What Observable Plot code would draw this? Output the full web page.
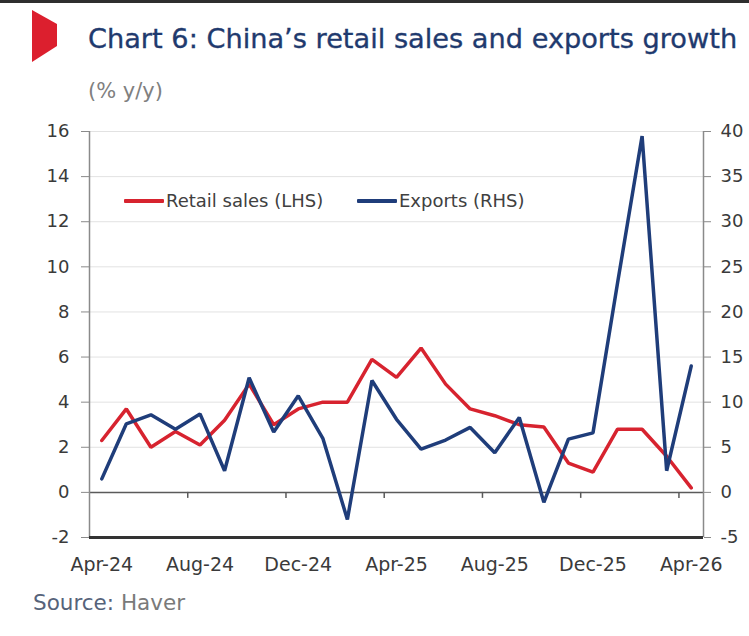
<!DOCTYPE html>
<html><head><meta charset="utf-8">
<script src="https://cdn.jsdelivr.net/npm/d3@7"></script>
<script src="https://cdn.jsdelivr.net/npm/@observablehq/plot@0.6"></script>
<style>
html,body{margin:0;padding:0;background:#fff;}
body{width:749px;height:636px;position:relative;overflow:hidden;font-family:"DejaVu Sans",sans-serif;}
#topline{position:absolute;left:0;top:0;width:749px;height:3px;background:#2e2e2e;}
#flag{position:absolute;left:0;top:0;}
#title{position:absolute;left:88px;top:25px;font-size:27.2px;line-height:28px;color:#1f3a6e;white-space:nowrap;-webkit-text-stroke:0.35px #1f3a6e;}
#subtitle{position:absolute;left:88px;top:81px;font-size:21px;line-height:21px;color:#808080;white-space:nowrap;}
#chart{position:absolute;left:0;top:110px;}
#source{position:absolute;left:33px;top:592px;font-size:21.5px;line-height:21.5px;color:#7a7a7a;white-space:nowrap;}
#source .s{color:#56637a;}
.leg{position:absolute;top:192px;font-size:18px;line-height:18px;color:#404040;white-space:nowrap;}
.sw{position:absolute;top:199px;height:4px;border-radius:1px;}
</style></head><body>
<div id="topline"></div>
<svg id="flag" width="70" height="70"><polygon points="32,10 57,24 57,46 32,62" fill="#dc1f2e"/></svg>
<div id="title"></div>
<div id="subtitle"></div>
<div id="chart"></div>
<div id="legend"></div>
<div id="source"><span class="s">Source:</span> Haver</div>
<script>
const titleText = "Chart 6: China\u2019s retail sales and exports growth";
const subtitleText = "(% y/y)";
const months = ["Apr-24","May-24","Jun-24","Jul-24","Aug-24","Sep-24","Oct-24","Nov-24","Dec-24",
  "Jan-25","Feb-25","Mar-25","Apr-25","May-25","Jun-25","Jul-25","Aug-25","Sep-25","Oct-25","Nov-25","Dec-25",
  "Jan-26","Feb-26","Mar-26","Apr-26"];
const retailSales = [2.3, 3.7, 2.0, 2.7, 2.1, 3.2, 4.8, 3.0, 3.7, 4.0, 4.0, 5.9, 5.1, 6.4, 4.8, 3.7, 3.4, 3.0, 2.9, 1.3, 0.9, 2.8, 2.8, 1.6, 0.2];
const exportsGrowth = [1.5, 7.6, 8.6, 7.0, 8.7, 2.4, 12.7, 6.7, 10.7, 6.0, -3.0, 12.4, 8.1, 4.8, 5.8, 7.2, 4.4, 8.3, -1.1, 5.9, 6.6, 23.2, 39.5, 2.4, 14.0];
const leftTicks = [-2, 0, 2, 4, 6, 8, 10, 12, 14, 16];
const rightTicks = [-5, 0, 5, 10, 15, 20, 25, 30, 35, 40];
const xLabelEvery = 4;
const seriesNames = ["Retail sales (LHS)", "Exports (RHS)"];
const colors = ["#d7232f", "#1f3d7a"];

document.getElementById("title").textContent = titleText;
document.getElementById("subtitle").textContent = subtitleText;

const lMin = d3.min(leftTicks), lMax = d3.max(leftTicks);
const rMin = d3.min(rightTicks), rMax = d3.max(rightTicks);
const k = (lMax - lMin) / (rMax - rMin);
const rows = months.map((m, i) => ({i, m, retail: retailSales[i], exp: exportsGrowth[i] * k}));
const xDomain = [-0.5, months.length - 0.5];
const labelIdx = d3.range(0, months.length, xLabelEvery);
const boundaries = d3.range(xLabelEvery, months.length, xLabelEvery).map(i => i - 0.5);

const chart = Plot.plot({
  width: 749, height: 480,
  marginLeft: 89, marginRight: 46, marginTop: 21, marginBottom: 53,
  style: {fontFamily: "DejaVu Sans, sans-serif", fontSize: "18px", color: "#3a3a3a", background: "transparent"},
  x: {domain: xDomain, axis: null},
  y: {domain: [lMin, lMax], axis: null},
  marks: [
    Plot.ruleY(leftTicks.filter(v => v > lMin && v !== 0), {stroke: "#e2e2e2", strokeWidth: 1}),
    Plot.ruleY([0], {stroke: "#5a5a5a", strokeWidth: 1.5}),
    Plot.ruleX(boundaries, {y1: () => 0, y2: () => 0, insetBottom: -6, stroke: "#5a5a5a", strokeWidth: 1.5}),
    Plot.ruleX(xDomain, {stroke: "#8a8a8a", strokeWidth: 1.5}),
    Plot.ruleY([lMin], {stroke: "#333", strokeWidth: 3}),
    Plot.axisY({anchor: "left", ticks: leftTicks, tickFormat: d => String(d), tickSize: 8, tickPadding: 12, label: null, stroke: "#8a8a8a", fontSize: 18}),
    Plot.axisY({anchor: "right", ticks: rightTicks.map(v => v * k), tickFormat: d => String(Math.round(d / k)), tickSize: 7, tickPadding: 10, label: null, stroke: "#8a8a8a", fontSize: 18}),
    Plot.axisX({anchor: "bottom", ticks: labelIdx, tickFormat: i => months[i], tickSize: 0, tickPadding: 20, label: null, fontSize: 19}),
    Plot.line(rows, {x: "i", y: "retail", stroke: colors[0], strokeWidth: 3.5, strokeLinejoin: "miter"}),
    Plot.line(rows, {x: "i", y: "exp", stroke: colors[1], strokeWidth: 3.5, strokeLinejoin: "miter"})
  ]
});
document.getElementById("chart").appendChild(chart);

const legend = document.getElementById("legend");
const legPos = [{sw: 124, tx: 166}, {sw: 357, tx: 399}];
seriesNames.forEach((name, j) => {
  const sw = document.createElement("div");
  sw.className = "sw";
  sw.style.left = legPos[j].sw + "px";
  sw.style.width = (legPos[j].tx - legPos[j].sw - 2) + "px";
  sw.style.background = colors[j];
  legend.appendChild(sw);
  const t = document.createElement("div");
  t.className = "leg";
  t.style.left = legPos[j].tx + "px";
  t.textContent = name;
  legend.appendChild(t);
});
</script>
</body></html>
